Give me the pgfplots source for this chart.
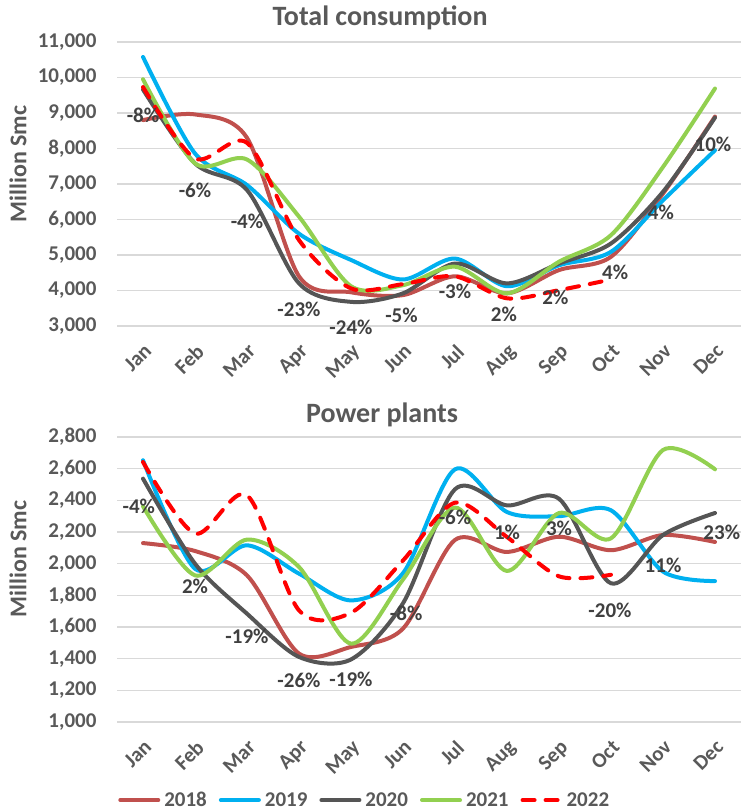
\documentclass[border=0pt]{standalone}
\usepackage{fontspec}
\setmainfont{Carlito}
\usepackage{pgfplots}
\usepackage{pgfplotstable}
\pgfplotsset{compat=1.18}

\definecolor{c18}{HTML}{C0504D}
\definecolor{c19}{HTML}{00B0F0}
\definecolor{c20}{HTML}{555555}
\definecolor{c21}{HTML}{92D050}
\definecolor{c22}{HTML}{FF0000}
\definecolor{txt}{HTML}{595959}
\definecolor{pctc}{HTML}{404040}
\definecolor{gridc}{HTML}{D9D9D9}

% monthly values, Million Smc (m = month index, Jan = 0)
\pgfplotstableread{
m  a     b     c     d     e
0  8800  10580 9660  9950  9730
1  8960  7860  7580  7580  7720
2  8300  6970  6830  7690  8160
3  4400  5600  4200  6080  5420
4  3950  4860  3680  4120  4060
5  3870  4310  3920  4150  4180
6  4400  4900  4760  4670  4400
7  3920  4120  4200  3920  3780
8  4575  4710  4760  4810  4010
9  4950  5090  5325  5560  4310
10 6730  6540  6780  7480  nan
11 8900  7950  8870  9690  nan
}\totaltab

\pgfplotstableread{
m  a     b     c     d     e
0  2130  2653  2537  2362  2642
1  2080  1968  2000  1926  2190
2  1926  2116  1684  2152  2432
3  1432  1937  1411  1979  1705
4  1474  1768  1395  1495  1690
5  1590  1940  1750  1900  2020
6  2150  2596  2470  2354  2385
7  2074  2326  2368  1954  2168
8  2170  2300  2410  2320  1920
9  2085  2337  1876  2160  1930
10 2181  1950  2181  2718  nan
11 2137  1890  2320  2596  nan
}\powertab

\newcommand{\lbl}{\fontsize{21}{24}\selectfont\bfseries}

\tikzset{
  pct/.style={font=\lbl, text=pctc, inner sep=0pt},
  ttl/.style={font=\fontsize{28}{30}\selectfont\bfseries, text=txt, inner sep=0pt},
  ylab/.style={font=\fontsize{24}{26}\selectfont\bfseries, text=txt, inner sep=0pt, rotate=90},
}

\pgfplotsset{
  base/.style={
    scale only axis, width=624pt,
    xmin=-0.5, xmax=11.5, clip=false,
    xtick={0,...,11},
    xticklabels={Jan,Feb,Mar,Apr,May,Jun,Jul,Aug,Sep,Oct,Nov,Dec},
    axis line style={draw=none}, tick style={draw=none},
    ymajorgrids, grid style={draw=gridc, line width=1.3pt},
    scaled y ticks=false,
    /pgf/number format/1000 sep={,},
    /pgf/number format/assume math mode=true,
    tick label style={font=\lbl, text=txt},
    yticklabel style={xshift=-17pt},
    xticklabel style={xshift=0pt, yshift=-12pt, rotate=45, anchor=north east},
    legend image code/.code={\draw[#1] (0pt,0pt) -- (38pt,0pt);},
  },
  s18/.style={draw=c18, line width=4pt, smooth, no markers, line cap=round},
  s19/.style={draw=c19, line width=4pt, smooth, no markers, line cap=round},
  s20/.style={draw=c20, line width=4pt, smooth, no markers, line cap=round},
  s21/.style={draw=c21, line width=4pt, smooth, no markers, line cap=round},
  s22/.style={draw=c22, line width=4pt, smooth, no markers, line cap=round, dash pattern=on 12pt off 11pt},
}

\begin{document}
\begin{tikzpicture}
\useasboundingbox (0,0) rectangle (749pt,811pt);

\begin{axis}[base, at={(117pt,485pt)}, anchor=south west, height=284pt,
  ymin=3000, ymax=11000, ytick={3000,4000,...,11000}]
\addplot[s18] table[x=m, y=a] {\totaltab};
\addplot[s19] table[x=m, y=b] {\totaltab};
\addplot[s20] table[x=m, y=c] {\totaltab};
\addplot[s21] table[x=m, y=d] {\totaltab};
\addplot[s22] table[x=m, y=e] {\totaltab};
\node[pct] at (axis cs:0,8940) {-8\%};
\node[pct] at (axis cs:1,6830) {-6\%};
\node[pct] at (axis cs:2,5960) {-4\%};
\node[pct] at (axis cs:3,3480) {-23\%};
\node[pct] at (axis cs:4,2970) {-24\%};
\node[pct] at (axis cs:4.97,3310) {-5\%};
\node[pct] at (axis cs:6,3990) {-3\%};
\node[pct] at (axis cs:6.94,3340) {2\%};
\node[pct] at (axis cs:7.93,3820) {2\%};
\node[pct] at (axis cs:9.08,4520) {4\%};
\node[pct] at (axis cs:9.96,6210) {4\%};
\node[pct] at (axis cs:10.96,8130) {10\%};
\end{axis}
\node[ttl] at (380pt,793pt) {Total consumption};
\node[ylab] at (18pt,647pt) {Million Smc};

\begin{axis}[base, at={(117pt,89pt)}, anchor=south west, height=285pt,
  ymin=1000, ymax=2800, ytick={1000,1200,...,2800},
  legend columns=5,
  legend style={at={(0.397,-0.274)}, anchor=center, draw=none, fill=none,
    font=\lbl, text=txt,
    /tikz/every odd column/.append style={column sep=2pt},
    /tikz/every even column/.append style={column sep=10pt}}]
\addplot[s18] table[x=m, y=a] {\powertab};
\addplot[s19] table[x=m, y=b] {\powertab};
\addplot[s20] table[x=m, y=c] {\powertab};
\addplot[s21] table[x=m, y=d] {\powertab};
\addplot[s22] table[x=m, y=e] {\powertab};
\legend{2018,2019,2020,2021,2022}
\node[pct] at (axis cs:-0.08,2362) {-4\%};
\node[pct] at (axis cs:1,1857) {2\%};
\node[pct] at (axis cs:2,1541) {-19\%};
\node[pct] at (axis cs:3,1263) {-26\%};
\node[pct] at (axis cs:4,1267) {-19\%};
\node[pct] at (axis cs:5.06,1684) {-8\%};
\node[pct] at (axis cs:6,2295) {-6\%};
\node[pct] at (axis cs:7,2200) {1\%};
\node[pct] at (axis cs:8,2221) {3\%};
\node[pct] at (axis cs:8.98,1705) {-20\%};
\node[pct] at (axis cs:10,1990) {11\%};
\node[pct] at (axis cs:11.13,2200) {23\%};
\end{axis}
\node[ttl] at (382pt,396pt) {Power plants};
\node[ylab] at (18pt,252pt) {Million Smc};
\end{tikzpicture}
\end{document}
